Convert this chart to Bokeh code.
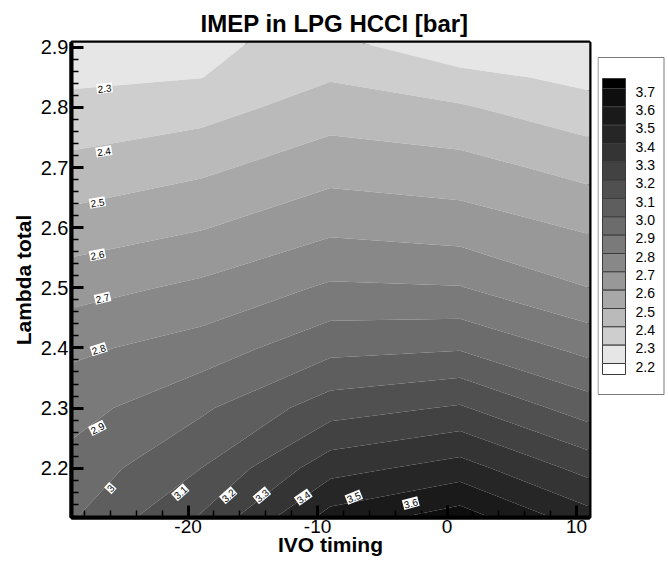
import numpy as np
from bokeh.plotting import figure
from bokeh.models import Range1d, FixedTicker, ColumnDataSource
from bokeh.layouts import row
from bokeh.embed import file_html
from bokeh.resources import INLINE
from bokeh.core.properties import value

# ---------------- data ----------------
ivo_timing = [-29, -19, -9, 1, 11]
lambda_total = [2.118, 2.2, 2.3, 2.4, 2.5, 2.6, 2.7, 2.8, 2.85, 2.908]
# IMEP [bar] along lambda (bottom -> top) for each IVO timing
imep_ivo_m29 = [2.990, 2.935, 2.861, 2.779, 2.660, 2.542, 2.428, 2.329, 2.281, 2.225]
imep_ivo_m19 = [3.210, 3.100, 2.982, 2.844, 2.721, 2.594, 2.479, 2.359, 2.298, 2.286]
imep_ivo_m9 = [3.540, 3.362, 3.154, 2.970, 2.815, 2.678, 2.560, 2.448, 2.392, 2.325]
imep_ivo_p1 = [3.650, 3.443, 3.212, 2.990, 2.805, 2.652, 2.538, 2.410, 2.333, 2.216]
imep_ivo_p11 = [3.438, 3.263, 3.047, 2.869, 2.700, 2.588, 2.464, 2.337, 2.271, 2.210]

levels = [2.2, 2.3, 2.4, 2.5, 2.6, 2.7, 2.8, 2.9, 3.0, 3.1, 3.2, 3.3, 3.4, 3.5, 3.6, 3.7]
level_labels = ["2.2", "2.3", "2.4", "2.5", "2.6", "2.7", "2.8", "2.9",
                "3.0", "3.1", "3.2", "3.3", "3.4", "3.5", "3.6", "3.7"]
# fill of each band [2.2,2.3] ... [3.6,3.7]
band_colors = ["#e6e6e6", "#cecece", "#bababa", "#a8a8a8", "#989898", "#888888",
               "#7a7a7a", "#6c6c6c", "#5e5e5e", "#505050", "#424242", "#343434",
               "#262626", "#1a1a1a", "#0e0e0e"]
cap_low_color = "#ffffff"
cap_high_color = "#000000"

x_ticks = [-20, -10, 0, 10]
y_ticks = [2.2, 2.3, 2.4, 2.5, 2.6, 2.7, 2.8, 2.9]

# contour line labels
cl_text = ["2.3", "2.4", "2.5", "2.6", "2.7", "2.8", "2.9", "3",
           "3.1", "3.2", "3.3", "3.4", "3.5", "3.6"]
cl_x = [-26.45, -26.5, -27.0, -27.0, -26.6, -26.9, -27.0, -26.0,
        -20.6, -16.9, -14.3, -11.1, -7.2, -2.8]
cl_y = [2.832, 2.727, 2.642, 2.555, 2.483, 2.398, 2.267, 2.167,
        2.160, 2.155, 2.155, 2.152, 2.152, 2.142]
cl_angle = [6, 9, 10, 11, 13, 18, 27, 48, 42, 42, 40, 35, 22, 15]

FONT = "Liberation Sans"

# ---------------- main contour plot ----------------
p = figure(width=597, height=564,
           x_range=Range1d(-29, 11), y_range=Range1d(2.118, 2.908),
           toolbar_location=None, output_backend="svg",
           min_border_left=71, min_border_right=8,
           min_border_top=42, min_border_bottom=47,
           x_axis_label="IVO timing", y_axis_label="Lambda total")

p.title.text = "IMEP in LPG HCCI  [bar]"
p.title.align = "left"
p.title.offset = 129
p.title.standoff = 11
p.title.text_font = FONT
p.title.text_font_size = "24px"
p.title.text_font_style = "bold"
p.title.text_color = "black"

z = np.array([imep_ivo_m29, imep_ivo_m19, imep_ivo_m9, imep_ivo_p1, imep_ivo_p11]).T
cr = p.contour(x=ivo_timing, y=lambda_total, z=z, levels=levels, fill_color=band_colors)
fg = cr.fill_renderer.glyph
fg.line_color = fg.fill_color
fg.line_width = 0.7

p.grid.visible = False
p.outline_line_color = "black"
p.outline_line_width = 4
p.background_fill_color = "white"

p.xaxis.ticker = FixedTicker(ticks=x_ticks, minor_ticks=list(range(-28, 11, 2)))
p.yaxis.ticker = FixedTicker(ticks=y_ticks,
                             minor_ticks=[round(2.12 + 0.02 * i, 2) for i in range(40)])
p.xaxis.major_label_overrides = {t: str(t) for t in x_ticks}
p.yaxis.major_label_overrides = {t: f"{t:.1f}" for t in y_ticks}
for ax in p.axis:
    ax.axis_line_width = 4
    ax.axis_line_color = "black"
    ax.major_tick_in = 12
    ax.major_tick_out = 0
    ax.minor_tick_in = 7
    ax.minor_tick_out = 0
    ax.major_tick_line_width = 3
    ax.minor_tick_line_width = 1.5
    ax.major_tick_line_color = "black"
    ax.minor_tick_line_color = "black"
    ax.major_label_text_font = FONT
    ax.major_label_text_color = "black"
    ax.axis_label_text_font = FONT
    ax.axis_label_text_font_size = "21px"
    ax.axis_label_text_font_style = "bold"
    ax.axis_label_text_color = "black"
p.xaxis.major_label_text_font_size = "19px"
p.yaxis.major_label_text_font_size = "20px"
p.xaxis.major_label_standoff = 2
p.yaxis.major_label_standoff = 3
p.xaxis.axis_label_standoff = -3
p.yaxis.axis_label_standoff = 3

src = ColumnDataSource(dict(x=cl_x, y=cl_y, text=cl_text, angle=cl_angle))
p.text(x="x", y="y", text="text", angle="angle", angle_units="deg", source=src,
       text_font=value(FONT), text_font_size="10px", text_color="black",
       text_align="center", text_baseline="middle",
       background_fill_color="white", padding=1)

# ---------------- legend panel (pixel coordinates of the page) ----------------
lg = figure(width=71, height=564, x_range=Range1d(597, 668), y_range=Range1d(517, 42),
            toolbar_location=None, output_backend="svg",
            min_border_left=0, min_border_right=0, min_border_top=42, min_border_bottom=47,
            x_axis_type=None, y_axis_type=None)
lg.grid.visible = False
lg.outline_line_color = None

n = len(levels)
b_top, b_bot = 88.0, 363.0
step = (b_bot - b_top) / (n - 1)
bounds = [b_top + step * i for i in range(n)]          # level 3.7 at top ... 2.2 at bottom
sw_top = [b_top - 10] + bounds
sw_bot = bounds + [b_bot + 11]
sw_col = [cap_high_color] + band_colors[::-1] + [cap_low_color]
lg.quad(left=597.5, right=663.5, top=57, bottom=394, fill_color="white",
        line_color="#7a7a7a", line_width=1)
lg.quad(left=[602] * len(sw_col), right=[625] * len(sw_col), top=sw_top, bottom=sw_bot,
        fill_color=sw_col, line_color="#3c3c3c", line_width=1)
lg.text(x=[635] * n, y=[b + 3 for b in bounds], text=level_labels[::-1],
        text_font=value(FONT), text_font_size="14px", text_color="black",
        text_align="left", text_baseline="middle")

layout = row(p, lg, spacing=0)
open("out.html", "w").write(file_html(layout, INLINE))
